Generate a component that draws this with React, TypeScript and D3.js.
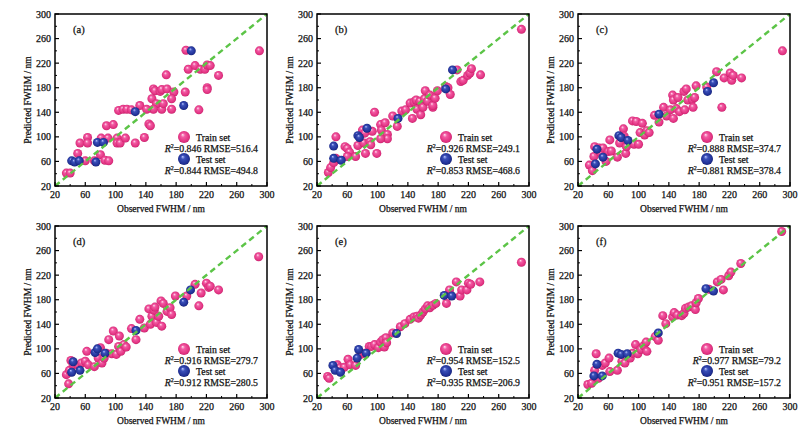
import * as d3 from "d3";

const PANEL_W = 212;
const PANEL_H = 172;
const COL_X = [55, 317, 578];
const ROW_Y = [14, 226];
const TICKS = [20, 60, 100, 140, 180, 220, 260, 300];
const MINOR_TICKS = [40, 80, 120, 160, 200, 240, 280];
const LABELS = ["(a)", "(b)", "(c)", "(d)", "(e)", "(f)"];

// [observed, predicted]
const TRAIN_A: [number, number][] = [
  [35, 41], [40, 41], [50, 73], [53, 90], [63, 99], [63, 90], [60, 61], [72, 61],
  [80, 71], [81, 98], [90, 98], [86, 62], [91, 61], [88, 118], [97, 120], [102, 98],
  [102, 90], [106, 90], [113, 98], [104, 143], [110, 145], [115, 145], [121, 144],
  [132, 151], [126, 90], [138, 99], [144, 121], [146, 118], [148, 162], [150, 178],
  [152, 175], [159, 174], [161, 177], [167, 201], [168, 178], [177, 173], [174, 162],
  [174, 145], [161, 145], [154, 154], [163, 154], [150, 145], [141, 145], [192, 173],
  [193, 241], [196, 210], [205, 216], [212, 210], [218, 210], [221, 217], [225, 216],
  [236, 200], [221, 180], [221, 177], [210, 144], [290, 240],
];
const TEST_A: [number, number][] = [
  [42, 61], [46, 59], [52, 61], [74, 59], [76, 91], [84, 91], [126, 141], [190, 151], [200, 240],
];

const TRAIN_B: [number, number][] = [
  [45, 100], [35, 42], [38, 50], [42, 58], [45, 65], [57, 84], [60, 81], [63, 75],
  [60, 68], [71, 68], [74, 86], [80, 111], [83, 106], [82, 90], [84, 73], [90, 92],
  [91, 87], [93, 109], [96, 140], [99, 73], [104, 120], [105, 111], [110, 123],
  [113, 104], [113, 97], [104, 97], [120, 134], [126, 117], [132, 142], [137, 144],
  [143, 155], [146, 130], [148, 157], [151, 160], [152, 145], [156, 158], [157, 136],
  [160, 148], [162, 162], [163, 175], [166, 158], [169, 168], [173, 148], [173, 151],
  [176, 163], [179, 175], [190, 182], [193, 180], [196, 169], [205, 209], [210, 190],
  [213, 192], [219, 200], [222, 204], [224, 211], [236, 201], [290, 275],
];
const TEST_B: [number, number][] = [
  [42, 85], [42, 65], [52, 62], [74, 102], [76, 99], [86, 114], [127, 130], [190, 178], [199, 209],
];

const TRAIN_C: [number, number][] = [
  [35, 54], [39, 45], [41, 68], [42, 84], [48, 82], [50, 74], [53, 82], [57, 60],
  [60, 76], [62, 95], [64, 77], [72, 67], [75, 90], [80, 113], [81, 101], [83, 73],
  [84, 84], [92, 126], [94, 88], [97, 125], [100, 88], [105, 122], [102, 107],
  [108, 103], [111, 110], [114, 107], [121, 135], [127, 124], [133, 148], [137, 134],
  [142, 144], [146, 130], [145, 168], [146, 160], [150, 146], [152, 164], [154, 141],
  [160, 174], [161, 144], [163, 178], [165, 160], [171, 161], [172, 148], [174, 164],
  [176, 183], [190, 181], [203, 206], [213, 196], [221, 204], [223, 192], [225, 200],
  [236, 196], [210, 148], [290, 240],
];
const TEST_C: [number, number][] = [
  [45, 80], [43, 56], [53, 67], [74, 102], [77, 99], [86, 94], [127, 137], [191, 174], [199, 188],
];

const TRAIN_D: [number, number][] = [
  [38, 43], [35, 58], [39, 65], [41, 81], [44, 74], [51, 73], [55, 77], [60, 80],
  [62, 96], [64, 74], [72, 71], [77, 85], [80, 102], [82, 77], [85, 85], [88, 93],
  [91, 115], [95, 92], [97, 129], [101, 91], [104, 104], [105, 121], [107, 96],
  [111, 107], [114, 103], [121, 133], [127, 115], [132, 148], [138, 134], [144, 165],
  [146, 140], [148, 153], [151, 163], [152, 168], [154, 143], [157, 153], [161, 137],
  [160, 178], [163, 174], [168, 161], [172, 167], [174, 156], [179, 186], [194, 186],
  [205, 205], [210, 170], [213, 191], [220, 207], [223, 200], [225, 202], [236, 196],
  [289, 250],
];
const TEST_D: [number, number][] = [
  [44, 79], [42, 62], [53, 65], [73, 94], [76, 100], [86, 93], [127, 130], [190, 176], [199, 196],
];

const TRAIN_E: [number, number][] = [
  [34, 55], [36, 52], [47, 74], [50, 69], [56, 70], [61, 83], [64, 74], [71, 73],
  [78, 91], [83, 93], [89, 104], [92, 104], [96, 107], [101, 102], [104, 111],
  [107, 115], [109, 103], [111, 118], [112, 110], [120, 126], [130, 136], [136, 141],
  [143, 148], [148, 152], [152, 153], [154, 150], [157, 155], [160, 160], [163, 165],
  [166, 170], [169, 167], [173, 171], [177, 174], [191, 174], [195, 196], [204, 209],
  [209, 186], [211, 196], [218, 196], [220, 207], [223, 205], [235, 209], [290, 241],
];
const TEST_E: [number, number][] = [
  [41, 73], [44, 65], [51, 62], [73, 85], [75, 99], [85, 93], [125, 125], [188, 187], [198, 186],
];

const TRAIN_F: [number, number][] = [
  [33, 42], [38, 44], [42, 65], [44, 92], [47, 52], [52, 73], [56, 77], [61, 85],
  [62, 63], [72, 65], [78, 80], [82, 77], [89, 85], [92, 93], [96, 107], [99, 92],
  [103, 99], [107, 105], [110, 111], [111, 96], [122, 120], [126, 114], [132, 154],
  [136, 141], [145, 152], [147, 159], [151, 155], [157, 154], [160, 158], [162, 166],
  [166, 168], [170, 170], [175, 164], [176, 175], [179, 182], [193, 197], [204, 209],
  [209, 213], [212, 196], [219, 219], [222, 225], [235, 239], [289, 291],
];
const TEST_F: [number, number][] = [
  [41, 56], [45, 75], [52, 56], [73, 93], [77, 91], [85, 92], [126, 126], [189, 198], [199, 194],
];

const TRAIN_SETS = [TRAIN_A, TRAIN_B, TRAIN_C, TRAIN_D, TRAIN_E, TRAIN_F];
const TEST_SETS = [TEST_A, TEST_B, TEST_C, TEST_D, TEST_E, TEST_F];
const TRAIN_R2 = ["0.846", "0.926", "0.888", "0.916", "0.954", "0.977"];
const TRAIN_RMSE = ["516.4", "249.1", "374.7", "279.7", "152.5", "79.2"];
const TEST_R2 = ["0.844", "0.853", "0.881", "0.912", "0.935", "0.951"];
const TEST_RMSE = ["494.8", "468.6", "378.4", "280.5", "206.9", "157.2"];

const FONT = "'Liberation Serif', 'Times New Roman', serif";
const TXT = { fontFamily: FONT, fill: "#111", stroke: "#111", strokeWidth: 0.25 };

const Panel = ({ i }: { i: number }) => {
  const left = COL_X[i % 3];
  const top = ROW_Y[Math.floor(i / 3)];
  const x = d3.scaleLinear().domain([20, 300]).range([0, PANEL_W]);
  const y = d3.scaleLinear().domain([20, 300]).range([PANEL_H, 0]);

  const metricLine = (r2: string, rmse: string, yy: number) => (
    <text x={203} y={yy} textAnchor="end" fontSize={9.8} {...TXT}>
      <tspan fontStyle="italic">R</tspan>
      <tspan fontSize={6} dy={-4}>2</tspan>
      <tspan dy={4}>{`=${r2} RMSE=${rmse}`}</tspan>
    </text>
  );

  return (
    <g transform={`translate(${left},${top})`}>
      {TRAIN_SETS[i].map(([o, p], k) => (
        <circle key={`tr${k}`} cx={x(o)} cy={y(p)} r={4.5} fill="url(#pinkBall)" />
      ))}
      {TEST_SETS[i].map(([o, p], k) => (
        <circle key={`te${k}`} cx={x(o)} cy={y(p)} r={4.5} fill="url(#blueBall)" />
      ))}
      <line
        x1={x(20)}
        y1={y(20)}
        x2={x(300)}
        y2={y(300)}
        stroke="#5cc447"
        strokeWidth={2.4}
        strokeDasharray="6,4"
      />
      <rect width={PANEL_W} height={PANEL_H} fill="none" stroke="#000" strokeWidth={1.5} />

      {TICKS.map((t) => (
        <g key={`x${t}`}>
          <line x1={x(t)} x2={x(t)} y1={PANEL_H} y2={PANEL_H - 4} stroke="#000" strokeWidth={1.2} />
          <text x={x(t)} y={PANEL_H + 12} textAnchor="middle" fontSize={10} {...TXT}>
            {t}
          </text>
          <line x1={0} x2={4} y1={y(t)} y2={y(t)} stroke="#000" strokeWidth={1.2} />
          <text x={-4} y={y(t) + 3.5} textAnchor="end" fontSize={10} {...TXT}>
            {t}
          </text>
        </g>
      ))}
      {MINOR_TICKS.map((t) => (
        <g key={`m${t}`}>
          <line x1={x(t)} x2={x(t)} y1={PANEL_H} y2={PANEL_H - 2} stroke="#000" strokeWidth={1} />
          <line x1={0} x2={2} y1={y(t)} y2={y(t)} stroke="#000" strokeWidth={1} />
        </g>
      ))}

      <text x={PANEL_W / 2} y={PANEL_H + 26} textAnchor="middle" fontSize={9.5} {...TXT}>
        Observed FWHM / nm
      </text>
      <text
        transform={`translate(-24,${PANEL_H / 2}) rotate(-90)`}
        textAnchor="middle"
        fontSize={9.5}
        {...TXT}
      >
        Predicted FWHM / nm
      </text>

      <text x={18} y={19} fontSize={10.5} {...TXT}>
        {LABELS[i]}
      </text>

      <circle cx={129} cy={123} r={6} fill="url(#pinkBall)" />
      <text x={141} y={126.5} fontSize={9.8} {...TXT}>
        Train set
      </text>
      {metricLine(TRAIN_R2[i], TRAIN_RMSE[i], 137.5)}
      <circle cx={129} cy={145} r={6} fill="url(#blueBall)" />
      <text x={141} y={148.5} fontSize={9.8} {...TXT}>
        Test set
      </text>
      {metricLine(TEST_R2[i], TEST_RMSE[i], 160)}
    </g>
  );
};

export default function App() {
  return (
    <svg
      width={809}
      height={436}
      style={{ position: "absolute", left: 0, top: 0, background: "#fff" }}
    >
      <defs>
        <radialGradient id="pinkBall" cx="0.5" cy="0.5" r="0.55" fx="0.38" fy="0.3">
          <stop offset="0" stopColor="#ffe3f0" />
          <stop offset="0.3" stopColor="#f25aa3" />
          <stop offset="0.8" stopColor="#e0307f" />
          <stop offset="1" stopColor="#b81a62" />
        </radialGradient>
        <radialGradient id="blueBall" cx="0.5" cy="0.5" r="0.55" fx="0.38" fy="0.3">
          <stop offset="0" stopColor="#b8c4ff" />
          <stop offset="0.3" stopColor="#3a4fb8" />
          <stop offset="0.8" stopColor="#1f2f95" />
          <stop offset="1" stopColor="#101a60" />
        </radialGradient>
      </defs>
      {LABELS.map((_, i) => (
        <Panel key={i} i={i} />
      ))}
    </svg>
  );
}
